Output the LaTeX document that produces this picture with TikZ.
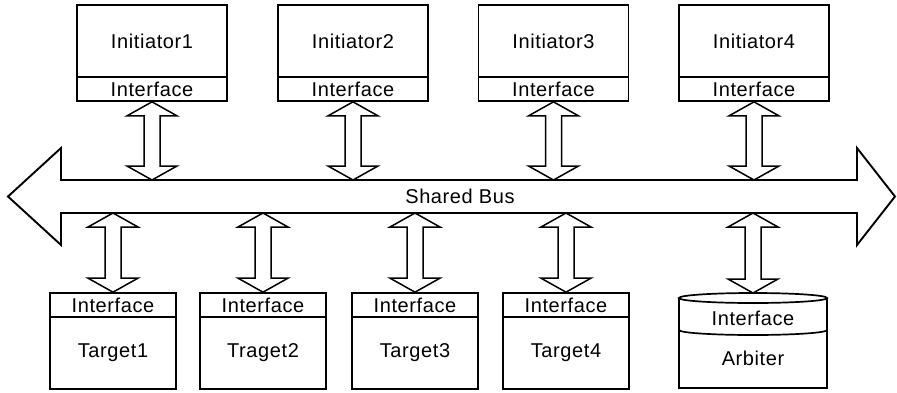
\documentclass[tikz,border=0pt]{standalone}
\usepackage{fontspec}
\setmainfont[LetterSpace=3]{Liberation Sans}
\usetikzlibrary{calc}

\tikzset{
  outline/.style={draw=black, line width=1.7pt, line join=miter},
  block/.style={outline, rectangle, inner sep=0pt, minimum width=150pt, minimum height=72pt,
                font=\fontsize{20}{22}\selectfont},
  port/.style={outline, rectangle, inner sep=0pt, minimum width=150pt, minimum height=24pt,
               font=\fontsize{20}{22}\selectfont},
  tblock/.style={block, minimum width=126pt},
  tport/.style={port, minimum width=126pt},
  label/.style={inner sep=0pt, font=\fontsize{20}{22}\selectfont},
  link/.style={draw=black, line width=1.5pt, fill=white, line join=miter}
}

% hollow two-headed arrow from point #1 (top) down to point #2 (bottom)
\newcommand{\hollowlink}[2]{%
  \draw[link] #1 -- ++(25,14) -- ++(-17,0) -- ($#2+(8,-14)$) -- ++(17,0) -- #2
    -- ++(-25,-14) -- ++(17,0) -- ($#1+(-8,14)$) -- ++(-17,0) -- cycle;}

\begin{document}
\begin{tikzpicture}[x=1pt, y=-1pt]
\useasboundingbox (0,0) rectangle (897,392);

% shared bus: wide double-headed arrow
\draw[outline, line width=1.9pt] (61,180) -- (857,180) -- (857,148) -- (895,196.5) -- (857,245)
  -- (857,213) -- (61,213) -- (61,245) -- (8,196.5) -- (61,148) -- cycle;
\node[label] (bus) at (460,196.5) {Shared Bus};
\coordinate (bustop) at (0,180);
\coordinate (busbot) at (0,213);

% initiators
\node[block] (init1) at (152,41) {Initiator1};
\node[port]  (iif1)  at (152,89) {Interface};
\node[block] (init2) at (353,41) {Initiator2};
\node[port]  (iif2)  at (353,89) {Interface};
\node[block] (init3) at (553.5,41) {Initiator3};
\node[port]  (iif3)  at (553.5,89) {Interface};
\node[block] (init4) at (754,41) {Initiator4};
\node[port]  (iif4)  at (754,89) {Interface};

% targets
\node[tport]  (tif1) at (113,305) {Interface};
\node[tblock] (tgt1) at (113,353) {Target1};
\node[tport]  (tif2) at (263,305) {Interface};
\node[tblock] (tgt2) at (263,353) {Traget2};
\node[tport]  (tif3) at (415,305) {Interface};
\node[tblock] (tgt3) at (415,353) {Target3};
\node[tport]  (tif4) at (566,305) {Interface};
\node[tblock] (tgt4) at (566,353) {Target4};

% arbiter drawn as a cylinder
\draw[outline] (679,298) -- (679,388) -- (827,388) -- (827,298);
\draw[outline, fill=white] (753,298) ellipse (74 and 5);
\draw[outline] (679,330) arc (180:0:74 and 5);
\node[label] (aif) at (753,318) {Interface};
\node[label] (arb) at (753,358) {Arbiter};
\coordinate (arbtop) at (753,293);

% connections to the bus
\hollowlink{(iif1.south)}{(iif1.south |- bustop)}
\hollowlink{(iif2.south)}{(iif2.south |- bustop)}
\hollowlink{(iif3.south)}{(iif3.south |- bustop)}
\hollowlink{(iif4.south)}{(iif4.south |- bustop)}
\hollowlink{(tif1.north |- busbot)}{(tif1.north)}
\hollowlink{(tif2.north |- busbot)}{(tif2.north)}
\hollowlink{(tif3.north |- busbot)}{(tif3.north)}
\hollowlink{(tif4.north |- busbot)}{(tif4.north)}
\hollowlink{(arbtop |- busbot)}{(arbtop)}
\end{tikzpicture}
\end{document}
